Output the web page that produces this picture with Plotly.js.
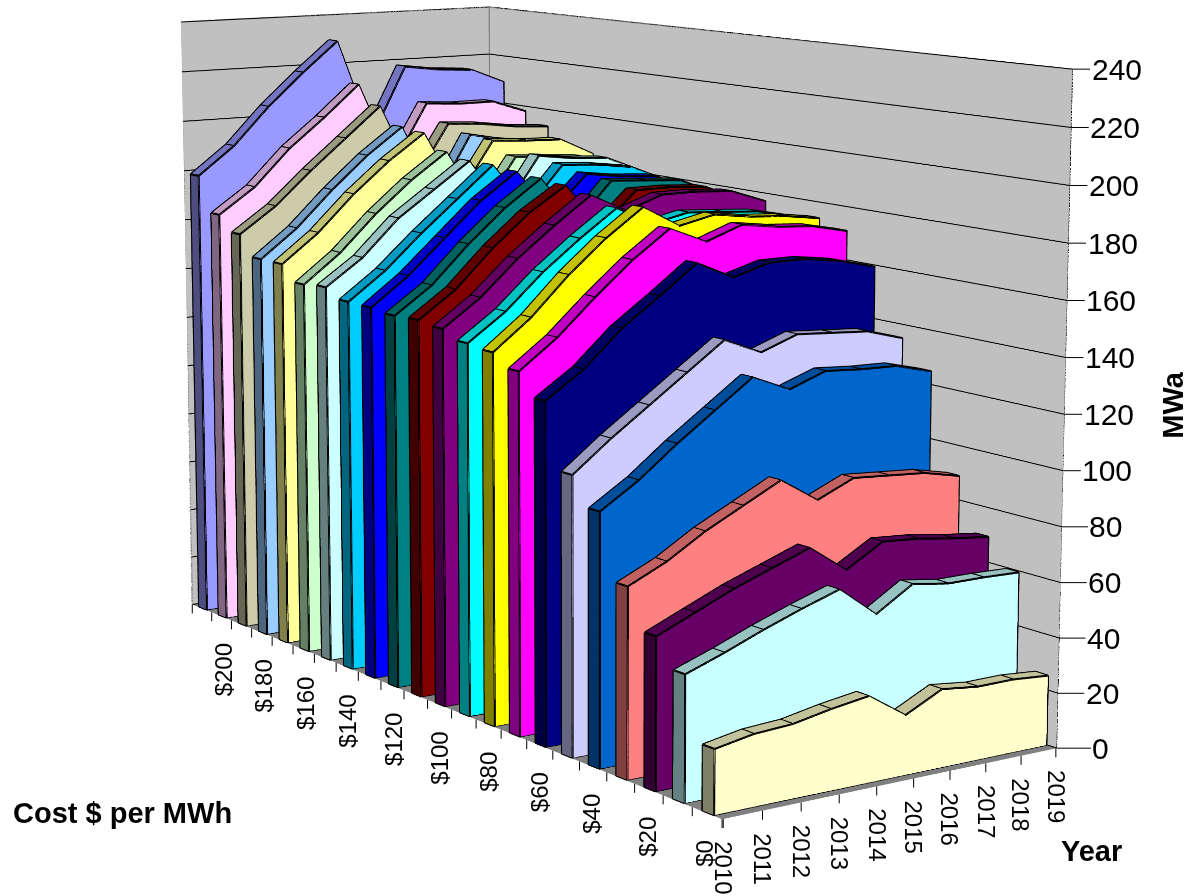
<!DOCTYPE html>
<html><head><meta charset="utf-8">
<script src="https://cdn.plot.ly/plotly-3.0.1.min.js"></script>
<style>html,body{margin:0;padding:0;background:#fff;overflow:hidden;width:1191px;height:896px}#c{position:absolute}</style>
</head><body><div id="c"></div><script>
const years=[2010,2011,2012,2013,2014,2015,2016,2017,2018,2019];
const costs=[0,10,20,30,40,50,60,70,80,90,100,110,120,130,140,150,160,170,180,190,200,210];
const mwa0=[22.7,25.2,26,28.6,30.6,21.3,28,26.4,26.5,25.4];
const mwa10=[44.5,49.5,55,60,64.5,53.5,62,60,60,59.6];
const mwa20=[54,60,66,71,76,66,74,73,71,69.5];
const mwa30=[68,74.5,83,90,97,88,94,93,92,89];
const mwa40=[91,100,111,121,131,125,130,129,128.6,125];
const mwa50=[101,112,122,132,142,136,141,140,139,135];
const mwa60=[124.5,134,147,157,167.5,161,165,165,163,159.5];
const mwa70=[132.5,143,156,168,178,172,177,175,174,171];
const mwa80=[137,148,162,174,184,176,179,177,176,174];
const mwa90=[138,148,161,172,182,175,178,177,176,173];
const mwa100=[141,151,164,175,185,178,183,183,182,177];
const mwa110=[142,152,166,178,187,170,183,183,182,176];
const mwa120=[141.5,151.5,165.6,178,188,170,185,184,183,177];
const mwa130=[142.4,153,166,179,189,172,186,184,183,177];
const mwa140=[142.5,153,166,178,190,172,188,187,185,179];
const mwa150=[146,156,170,180,190,170,190,188,187,181];
const mwa160=[145,156,170,182,192,168,188,187,186,181];
const mwa170=[151,162,176,188,198,172,193,192,191.5,184.5];
const mwa180=[151,162,176,188.6,199,170,194,191,189,184];
const mwa190=[159,169,182,194,206,175,197,196,194,193];
const mwa200=[165,175,189.5,201,213.5,180,204,203,203,198];
const mwa210=[179,190,205,218,230,190,218,216,215,209];
const seriesValues=[mwa0,mwa10,mwa20,mwa30,mwa40,mwa50,mwa60,mwa70,mwa80,mwa90,mwa100,mwa110,mwa120,mwa130,mwa140,mwa150,mwa160,mwa170,mwa180,mwa190,mwa200,mwa210];
const seriesColors=['#FFFFCC','#C8FFFF','#660066','#FF8080','#0066CC','#CCCCFF','#000080','#FF00FF','#FFFF00','#00FFFF','#800080','#800000','#008080','#0000FF','#00CCFF','#CCFFFF','#CCFFCC','#FFFF99','#99CCFF','#CCCCAA','#FFCCFF','#9999FF'];
const costTickValues=[0,20,40,60,80,100,120,140,160,180,200];
const costTickLabels=['$0','$20','$40','$60','$80','$100','$120','$140','$160','$180','$200'];
const costSlotEdges=[-5,5,15,25,35,45,55,65,75,85,95,105,115,125,135,145,155,165,175,185,195,205,215];
const zTicks=[0,20,40,60,80,100,120,140,160,180,200,220,240];

// camera
const al=0.9626,pit=0.1707,f=3544,Lx=0.1106,Ly=0.2720,Lz=0.1795,Px=590.6,Py=361.7;
const k=3;
const H=Math.round(f/1.2071);const left=Px-H/2,top0=Py-H/2;
const el=document.getElementById('c');el.style.left=left+'px';el.style.top=top0+'px';el.style.width=H+'px';el.style.height=H+'px';
const eye={x:-Math.cos(al)*Math.cos(pit)*k,y:-Math.sin(al)*Math.cos(pit)*k,z:Math.sin(pit)*k};

function shade(hex,fr){const n=parseInt(hex.slice(1),16);const c=[n>>16,(n>>8)&255,n&255].map(v=>Math.round(v*fr));return 'rgb('+c.join(',')+')';}
const traces=[];
seriesValues.forEach((vals,s)=>{
 const yf=costs[s]-2,yb=costs[s]+2,X=[],Y=[],Z=[],I=[],J=[],K=[],FC=[];
 years.forEach((yr,t)=>{[[yf,0],[yf,vals[t]],[yb,vals[t]],[yb,0]].forEach(p=>{X.push(yr);Y.push(p[0]);Z.push(p[1]);});});
 const tri=(a,b,c,col)=>{I.push(a);J.push(b);K.push(c);FC.push(col);};
 const front=seriesColors[s],topc=shade(front,.76),side=shade(front,.5);
 for(let t=0;t<years.length-1;t++){const a=t*4,b=(t+1)*4;
  tri(a,a+1,b+1,front);tri(a,b+1,b,front);
  tri(a+1,a+2,b+2,topc);tri(a+1,b+2,b+1,topc);
 }
 tri(0,1,2,side);tri(0,2,3,side);
 traces.push({type:'mesh3d',x:X,y:Y,z:Z,i:I,j:J,k:K,facecolor:FC,flatshading:true,hoverinfo:'skip',showscale:false,
  lighting:{ambient:1,diffuse:0,specular:0,roughness:1,fresnel:0},lightposition:{x:0,y:0,z:1000}});
 const lx=[],ly=[],lz=[];const add=(a,b,c)=>{lx.push(a);ly.push(b);lz.push(c);};const brk=()=>add(null,null,null);
 add(years[0],yf,0);years.forEach((yr,t)=>add(yr,yf,vals[t]));add(years[9],yf,0);add(years[0],yf,0);brk();
 years.forEach((yr,t)=>add(yr,yb,vals[t]));brk();
 years.forEach((yr,t)=>{add(yr,yf,vals[t]);add(yr,yb,vals[t]);brk();});
 add(years[0],yb,vals[0]);add(years[0],yb,0);add(years[0],yf,0);brk();
 traces.push({type:'scatter3d',mode:'lines',x:lx,y:ly,z:lz,connectgaps:false,line:{color:'#000',width:4},hoverinfo:'skip',showlegend:false});
});
const zmax=240,ymin=-5,ymax=215,xmin=2009.97,xmax=2019.03;
traces.push({type:'scatter3d',mode:'lines',x:[xmin,xmin,xmax,xmax,null,xmax,xmax],y:[ymax,ymax,ymax,ymin,null,ymax,ymax],z:[0,zmax,zmax,zmax,null,0,zmax],connectgaps:false,line:{color:'#808080',width:3},hoverinfo:'skip',showlegend:false});
traces.push({type:'scatter3d',mode:'lines',x:[xmax,xmax],y:[ymin,ymin],z:[0,zmax],line:{color:'#000',width:2},hoverinfo:'skip',showlegend:false});
const F="'Liberation Sans',Arial,sans-serif";
const sceneAnn=[];
const tickMark=(x,y)=>({x:x,y:y,z:0,text:' ',showarrow:true,arrowhead:0,arrowwidth:1,arrowcolor:'#000',ax:0,ay:11,font:{size:1}});
years.forEach(y=>sceneAnn.push(tickMark(y,ymin)));
costSlotEdges.forEach(c=>sceneAnn.push(tickMark(xmin,c)));
years.forEach(y=>sceneAnn.push({x:y,y:ymin,z:0,text:String(y),showarrow:false,textangle:90,xanchor:'center',yanchor:'top',yshift:-20,font:{family:F,size:24,color:'#000'}}));
costTickLabels.forEach((t,i)=>{const c=costTickValues[i];sceneAnn.push({x:xmin,y:c,z:0,text:t,showarrow:false,textangle:-90,xanchor:'center',yanchor:'top',xshift:(c-100)*0.02,yshift:-25,font:{family:F,size:24,color:'#000'}});});
zTicks.forEach(z=>sceneAnn.push({x:xmax,y:ymin,z:z,text:String(z),showarrow:true,arrowhead:0,arrowwidth:1,arrowcolor:'#000',ax:44,ay:0,xanchor:'center',yanchor:'middle',font:{family:F,size:30,color:'#000'}}));
const px=(x)=>(x-left)/H,py=(y)=>1-(y-top0)/H;
const layout={width:H,height:H,margin:{l:0,r:0,t:0,b:0,pad:0},paper_bgcolor:'#fff',showlegend:false,hovermode:false,
 scene:{domain:{x:[0,1],y:[0,1]},aspectmode:'manual',aspectratio:{x:Lx*k,y:Ly*k,z:Lz*k},camera:{eye:eye,center:{x:0,y:0,z:0},up:{x:0,y:0,z:1},projection:{type:'perspective'}},hovermode:false,dragmode:false,
  xaxis:{range:[xmin,xmax],dtick:1,showgrid:false,zeroline:false,showline:false,showticklabels:false,ticks:'',showbackground:true,backgroundcolor:'#c0c0c0',title:{text:''},showspikes:false},
  yaxis:{range:[ymin,ymax],dtick:10,showgrid:false,zeroline:false,showline:false,showticklabels:false,ticks:'',showbackground:true,backgroundcolor:'#c0c0c0',title:{text:''},showspikes:false},
  zaxis:{range:[0,zmax],dtick:20,showgrid:true,gridcolor:'#000',gridwidth:2,zeroline:false,showline:false,showticklabels:false,ticks:'',showbackground:true,backgroundcolor:'#808080',title:{text:''},showspikes:false},
  annotations:sceneAnn},
 annotations:[
  {xref:'paper',yref:'paper',x:px(122),y:py(813),text:'<b>Cost $ per MWh</b>',showarrow:false,font:{family:F,size:29,color:'#000'}},
  {xref:'paper',yref:'paper',x:px(1124),y:py(869),text:'<b>Year</b>',showarrow:false,font:{family:F,size:29,color:'#000'}},
  {xref:'paper',yref:'paper',x:px(1191),y:py(405),text:'<b>MWa</b>',textangle:-90,showarrow:false,font:{family:F,size:29,color:'#000'}}
 ]};
Plotly.newPlot(el,traces,layout,{displayModeBar:false,responsive:false});
</script></body></html>
